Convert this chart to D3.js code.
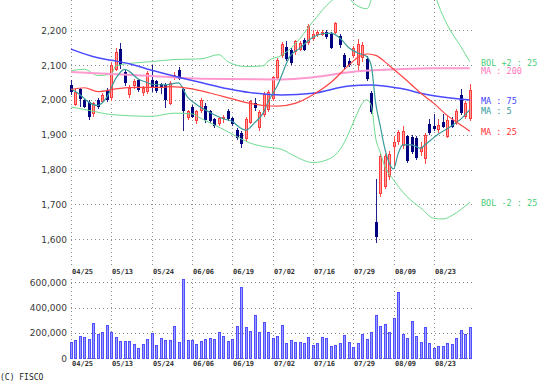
<!DOCTYPE html>
<html><head><meta charset="utf-8">
<script src="https://cdn.jsdelivr.net/npm/d3@7/dist/d3.min.js"></script>
<style>body{margin:0;background:#fff}svg{display:block}</style>
</head><body>
<svg id="chart" width="559" height="383"></svg>
<script>
// ---- data ----
const open  = [2043,1986,2030,2000,1995,1957,2000,1995,2029,2005,2086,2145,2080,2015,2038,2056,2019,2022,2058,2053,2045,2043,1990,2062,2085,2032,1948,1980,1938,1968,1983,1968,1944,1930,1945,1967,1947,1915,1905,1888,1935,1990,1920,1958,1971,2003,2063,2125,2152,2144,2135,2144,2172,2163,2175,2185,2188,2195,2190,2192,2185,2130,2112,2125,2100,2120,2118,2020,1650,1728,1750,1778,1865,1880,1870,1895,1893,1890,1850,1830,1930,1924,1914,1938,1895,1943,1933,2014,1952,1947];
const high  = [2058,2032,2034,2004,2000,1993,2005,2020,2033,2110,2148,2163,2086,2042,2060,2060,2040,2082,2101,2058,2050,2048,2055,2080,2095,2038,1972,1985,1972,2005,1990,1972,1948,1952,1957,1975,1952,1920,1910,1950,2001,2005,1972,2022,2028,2068,2120,2165,2170,2150,2172,2170,2178,2218,2200,2200,2202,2200,2195,2225,2190,2135,2120,2155,2175,2165,2125,2025,1773,1845,1845,1852,1895,1915,1925,1900,1900,1895,1880,1905,1945,1960,1945,1960,1955,1950,1975,2030,1997,2045];
const low   = [2015,1982,1980,1977,1943,1952,1975,1990,1995,1998,2082,2090,2040,2005,2030,2022,2012,2018,2024,2020,2018,1978,1985,2058,2056,1910,1942,1948,1932,1962,1934,1935,1918,1926,1935,1940,1925,1885,1862,1880,1930,1968,1912,1952,1966,1998,2058,2120,2112,2100,2130,2140,2140,2158,2170,2180,2184,2176,2145,2188,2150,2090,2095,2120,2080,2110,2055,1960,1589,1722,1745,1770,1810,1870,1860,1820,1845,1828,1840,1815,1900,1910,1905,1920,1890,1918,1928,1958,1945,1940];
const close = [2024,2024,2000,1981,1952,1990,1979,2014,2000,2101,2139,2100,2048,2035,2053,2028,2034,2078,2038,2024,2035,2000,2050,2072,2060,1970,1967,1951,1968,2001,1944,1939,1925,1948,1950,1943,1930,1891,1872,1945,1997,1975,1965,2018,2024,2065,2115,2160,2118,2106,2168,2164,2144,2211,2190,2195,2196,2180,2150,2221,2158,2096,2100,2149,2160,2158,2060,1966,1607,1838,1838,1845,1880,1909,1912,1823,1851,1832,1865,1900,1905,1914,1928,1924,1943,1924,1967,1962,1991,2029];
const volume = [132,145,176,171,153,276,192,205,263,205,171,137,137,137,111,84,111,150,197,105,158,145,145,255,132,626,145,145,113,137,153,158,153,205,176,137,153,255,566,250,216,342,205,290,205,163,179,263,124,145,132,132,118,171,105,118,171,163,97,105,118,182,132,92,118,192,153,205,342,255,271,211,321,521,192,163,295,176,132,250,118,84,97,97,118,111,158,224,192,245].map(v => v * 1000);

const dateLabels = ["04/25","05/13","05/24","06/06","06/19","07/02","07/16","07/29","08/09","08/23"];
const dateIndex  = [0,9,18,27,36,45,54,63,72,81];
const priceTicks = [1600,1700,1800,1900,2000,2100,2200];
const volumeTicks = [0,200000,400000,600000];

// indicator lines: [bar index, value]
const ma5 = [[0,2032],[2,2015],[4,1993],[6,1984],[7,1992],[8,2008],[10,2062],[12,2088],[13,2082],[15,2060],[17,2050],[18,2045],[21,2043],[24,2049],[26,2008],[28,1987],[31,1964],[34,1946],[36,1938],[38,1918],[39,1913],[41,1935],[43,1965],[44,1995],[46,2040],[49,2128],[51,2148],[54,2180],[56,2190],[58,2192],[60,2178],[62,2150],[64,2135],[66,2125],[67,2099],[68,1990],[69,1926],[70,1862],[71,1819],[72,1802],[73,1845],[74,1871],[76,1871],[78,1861],[79,1871],[82,1902],[85,1926],[87,1945],[89,1972]];
const ma25 = [[0,2030],[3,2035],[6,2024],[10,2032],[15,2036],[20,2036],[22,2038],[27,2032],[31,2020],[36,2003],[40,1990],[43,1984],[46,1982],[50,1990],[54,2015],[58,2050],[62,2100],[64,2122],[66,2132],[68,2128],[70,2110],[72,2088],[75,2055],[78,2020],[81,1990],[84,1955],[87,1928],[89,1910]];
const ma75 = [[0,2146],[6,2121],[9,2114],[13,2104],[18,2085],[24,2065],[29,2050],[35,2032],[40,2021],[47,2014],[54,2019],[62,2040],[67,2043],[73,2034],[80,2014],[89,2000]];
const ma200 = [[0,2080],[18,2069],[29,2061],[47,2059],[54,2065],[63,2081],[73,2088],[81,2091],[89,2091]];
const bolUp = [[0,2084],[3,2088],[6,2070],[9,2074],[10,2098],[14,2106],[18,2110],[23,2116],[29,2118],[33,2130],[35,2110],[39,2096],[43,2098],[44,2112],[47,2128],[50,2160],[54,2225],[58,2283],[60,2300],[62,2295],[63,2279],[66,2262],[67,2290],[68,2400],[72,2450],[78,2400],[81,2310],[82,2273],[84,2215],[87,2153],[89,2110]];
const bolDn = [[0,1980],[4,1970],[9,1958],[18,1953],[23,1962],[27,1960],[29,1947],[33,1922],[37,1895],[40,1876],[43,1866],[47,1858],[50,1838],[54,1820],[58,1833],[61,1878],[62,1905],[63,1935],[64,1965],[65,1990],[66,2000],[67,1985],[68,1890],[69,1850],[70,1810],[72,1770],[75,1722],[78,1690],[81,1660],[83,1658],[85,1668],[87,1685],[89,1706]];

const series = [
  {name:"BOL +2 : 25", pts:bolUp, color:"#6ddc8f", text:"#4ccc78", w:1},
  {name:"MA : 200", pts:ma200, color:"#ff9ad0", text:"#ff77bb", w:2},
  {name:"MA : 75", pts:ma75, color:"#4a4aff", text:"#4444ff", w:1.5},
  {name:"MA : 5", pts:ma5, color:"#3a9c9c", text:"#339999", w:1.2},
  {name:"MA : 25", pts:ma25, color:"#ff4545", text:"#ff3333", w:1.2},
  {name:"BOL -2 : 25", pts:bolDn, color:"#6ddc8f", text:"#4ccc78", w:1}
];

// ---- scales ----
const svg = d3.select("#chart");
const n = close.length;
const x = d3.scaleLinear().domain([0, n - 1]).range([71, 71 + (n - 1) * 4.481]);
const yP = d3.scaleLinear().domain([1600, 2200]).range([239.2, 30.3]);
const yV = d3.scaleLinear().domain([0, 600000]).range([358.3, 282.3]);
const gridX1 = 472;
const gridColor = "#8c8c8c";

// clip for price panel
svg.append("defs").append("clipPath").attr("id","pclip")
  .append("rect").attr("x",0).attr("y",0).attr("width",gridX1+1).attr("height",266);

// ---- grids ----
const grid = svg.append("g").attr("stroke", gridColor).attr("stroke-dasharray","1,3").attr("shape-rendering","crispEdges");
priceTicks.forEach(t => {
  const yy = Math.round(yP(t)) + 0.5;
  grid.append("line").attr("x1",71).attr("x2",gridX1).attr("y1",yy).attr("y2",yy);
});
volumeTicks.forEach(t => {
  const yy = Math.round(yV(t)) + 0.5;
  grid.append("line").attr("x1",71).attr("x2",gridX1).attr("y1",yy).attr("y2",yy);
});
dateIndex.forEach(i => {
  const xx = Math.round(x(i)) + 0.5;
  grid.append("line").attr("x1",xx).attr("x2",xx).attr("y1",0).attr("y2",266);
  grid.append("line").attr("x1",xx).attr("x2",xx).attr("y1",279).attr("y2",359);
});

// ---- axes labels ----
const axisFont = "'DejaVu Sans', sans-serif";
const yAxisP = d3.axisLeft(yP).tickValues(priceTicks).tickFormat(d3.format(",")).tickSize(0).tickPadding(0);
const gP = svg.append("g").attr("transform","translate(67,0)").call(yAxisP);
const yAxisV = d3.axisLeft(yV).tickValues(volumeTicks).tickFormat(d3.format(",")).tickSize(0).tickPadding(0);
const gV = svg.append("g").attr("transform","translate(67,0)").call(yAxisV);
[gP, gV].forEach(g => {
  g.select(".domain").remove();
  g.selectAll("text").attr("font-family", axisFont).attr("font-size", 9).attr("fill","#3a3a3a");
});

const dateFont = "'DejaVu Sans Mono', monospace";
[271.5, 363.5].forEach(yy => {
  svg.append("g").selectAll("text").data(dateIndex).join("text")
    .attr("x", i => Math.round(x(i)) + 1)
    .attr("y", yy)
    .attr("dy","0.35em")
    .attr("font-family", dateFont).attr("font-size", 7).attr("font-weight","bold")
    .attr("fill","#333")
    .text((i, k) => dateLabels[k]);
});

// ---- volume bars ----
svg.append("g").selectAll("rect").data(volume).join("rect")
  .attr("x", (v,i) => Math.round(x(i)) - 1 + 0.5)
  .attr("y", v => Math.round(yV(v)) + 0.5)
  .attr("width", 2)
  .attr("height", v => Math.max(0, Math.round(yV(0)) - Math.round(yV(v))))
  .attr("fill", "#9a9aff").attr("stroke", "#4f4fff").attr("stroke-width", 1)
  .attr("shape-rendering","crispEdges");

// ---- candles ----
const pg = svg.append("g").attr("clip-path","url(#pclip)");
const cg = pg.append("g").attr("shape-rendering","crispEdges");
d3.range(n).forEach(i => {
  const up = close[i] >= open[i];
  const cx = Math.round(x(i));
  cg.append("line")
    .attr("x1", cx + 0.5).attr("x2", cx + 0.5)
    .attr("y1", yP(high[i])).attr("y2", yP(low[i]))
    .attr("stroke", up ? "#ff4a4a" : "#20208c").attr("stroke-width", 1);
  const top = yP(Math.max(open[i], close[i]));
  const h = Math.max(1, Math.abs(yP(open[i]) - yP(close[i])));
  if (up) {
    cg.append("rect").attr("x", cx - 1 + 0.5).attr("y", Math.round(top) + 0.5)
      .attr("width", 2).attr("height", Math.max(1, Math.round(h) - 1))
      .attr("fill", "#ff9c9c").attr("stroke", "#ff3c3c").attr("stroke-width", 1);
  } else {
    cg.append("rect").attr("x", cx - 1).attr("y", Math.round(top))
      .attr("width", 3).attr("height", Math.max(1, Math.round(h)))
      .attr("fill", "#000080");
  }
});

// ---- indicator lines ----
const line = d3.line().x(d => x(d[0])).y(d => yP(d[1])).curve(d3.curveMonotoneX);
series.forEach(s => {
  pg.append("path").attr("d", line(s.pts)).attr("fill","none")
    .attr("stroke", s.color).attr("stroke-width", s.w).attr("stroke-linejoin","round");
});

// ---- legend at right, placed at each line's last value ----
const legend = series.map(s => ({s, y: yP(s.pts[s.pts.length - 1][1])}))
  .sort((a, b) => a.y - b.y);
for (let k = 1; k < legend.length; k++) {
  if (legend[k].y - legend[k-1].y < 8.5) legend[k].y = legend[k-1].y + 8.5;
}
svg.append("g").selectAll("text").data(legend).join("text")
  .attr("x", 481).attr("y", d => d.y + 1).attr("dy","0.35em")
  .attr("font-family", "'DejaVu Sans Mono', monospace").attr("font-size", 8.5)
  .attr("fill", d => d.s.text)
  .attr("xml:space","preserve")
  .text(d => d.s.name);

// ---- credit ----
svg.append("text").attr("x", 0).attr("y", 377).attr("dy","0.35em")
  .attr("font-family", "'DejaVu Sans Mono', monospace").attr("font-size", 8)
  .attr("fill","#222").text("(C) FISCO");
</script>
</body></html>
